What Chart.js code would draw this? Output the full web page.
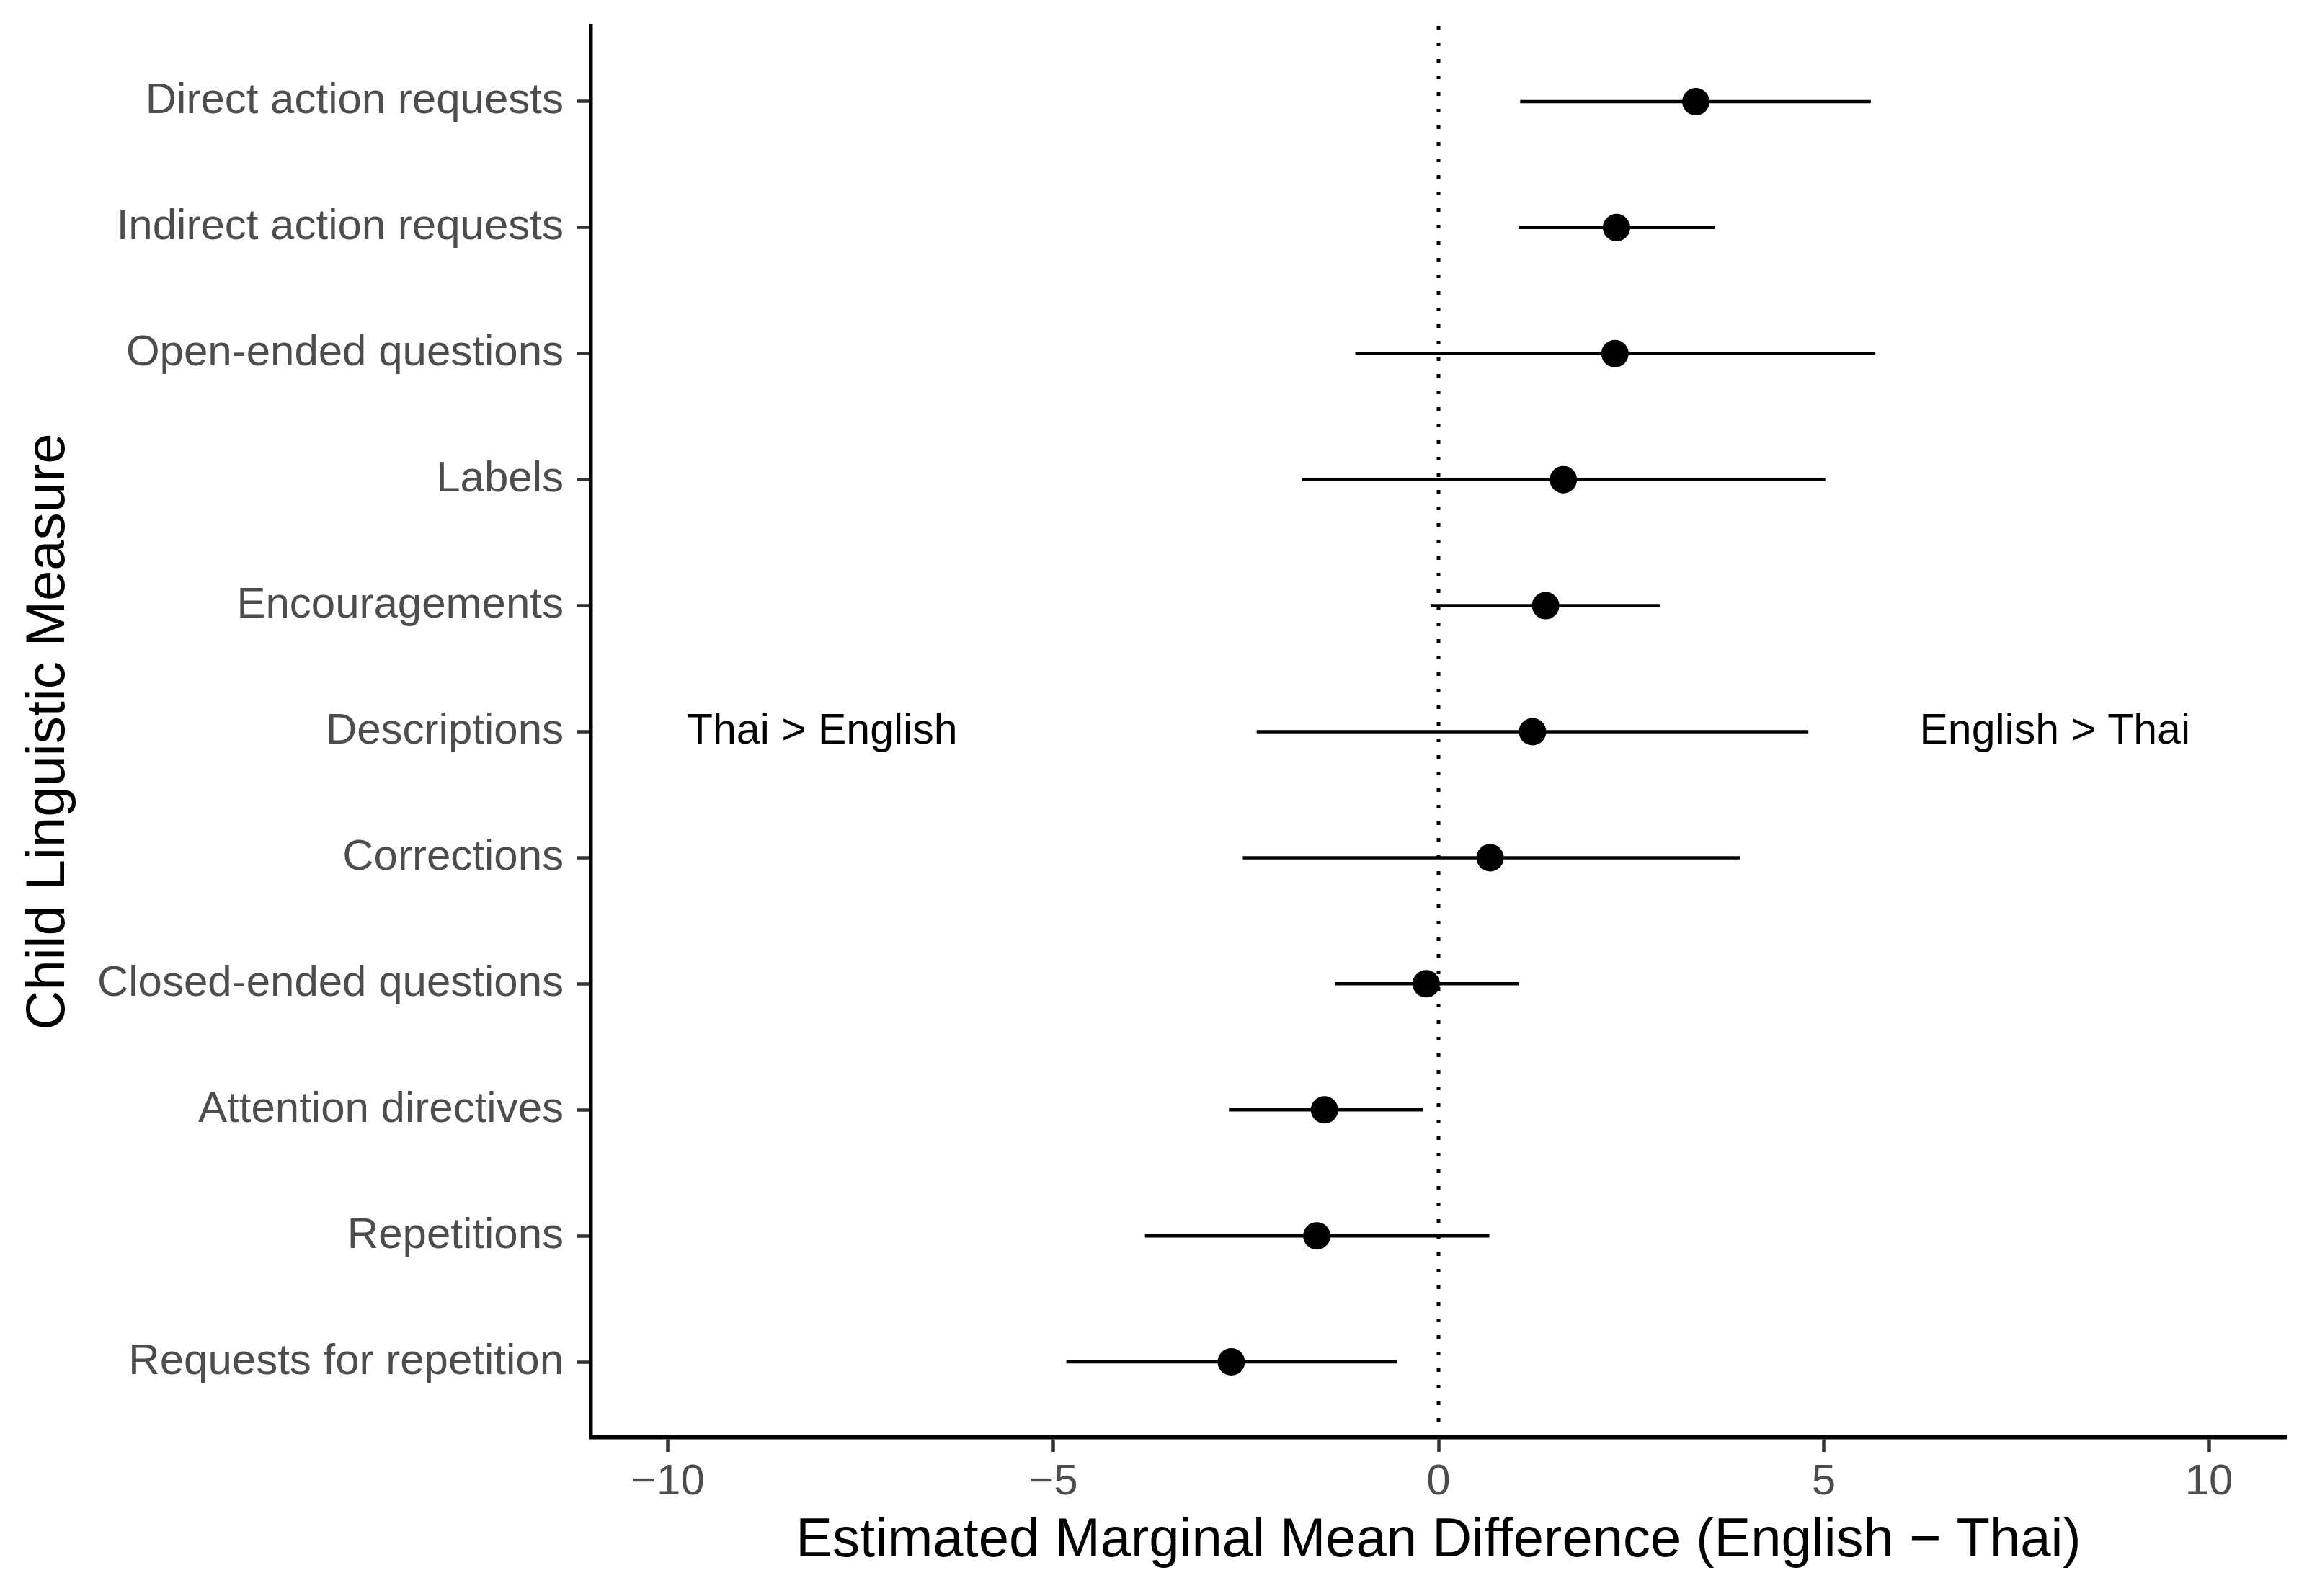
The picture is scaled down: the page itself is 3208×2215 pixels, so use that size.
<!DOCTYPE html>
<html>
<head>
<meta charset="utf-8">
<script src="https://cdn.jsdelivr.net/npm/chart.js@4"></script>
<style>
  body { margin: 0; background: #fff; overflow: hidden; }
  canvas { display: block; }
</style>
</head>
<body>
<canvas id="emmChart" width="3208" height="2215"></canvas>
<script>
// measures, top to bottom
const measures = [
    'Direct action requests',
    'Indirect action requests',
    'Open-ended questions',
    'Labels',
    'Encouragements',
    'Descriptions',
    'Corrections',
    'Closed-ended questions',
    'Attention directives',
    'Repetitions',
    'Requests for repetition'
];
const estimate = [3.34, 2.31, 2.29, 1.62, 1.39, 1.22, 0.67, -0.16, -1.48, -1.58, -2.69];
const lower    = [1.06, 1.04, -1.08, -1.77, -0.10, -2.36, -2.54, -1.34, -2.72, -3.81, -4.83];
const upper    = [5.61, 3.59, 5.67, 5.02, 2.88, 4.80, 3.91, 1.04, -0.20, 0.66, -0.54];
const xTicks = [-10, -5, 0, 5, 10];
const sideLabels = ['Thai > English', 'English > Thai'];
const sideLabelX = [-8, 8];
const sideLabelRow = 'Descriptions';

const FONT = "'Liberation Sans', Arial, sans-serif";

// one line per row for the confidence interval
const ciSets = measures.map((m, i) => ({
    type: 'line',
    data: [{ x: lower[i], y: i }, { x: upper[i], y: i }],
    borderColor: '#000',
    borderWidth: 4.5,
    pointRadius: 0,
    fill: false
}));

const pointSet = {
    type: 'scatter',
    data: measures.map((m, i) => ({ x: estimate[i], y: i })),
    backgroundColor: '#000',
    borderWidth: 0,
    pointRadius: 19
};

// dotted reference line at zero, drawn under the data
const zeroLine = {
    id: 'zeroLine',
    beforeDatasetsDraw(chart) {
        const { ctx, chartArea, scales } = chart;
        const px = scales.x.getPixelForValue(0);
        ctx.save();
        ctx.strokeStyle = '#000';
        ctx.lineWidth = 5;
        ctx.setLineDash([5, 18]);
        ctx.beginPath();
        ctx.moveTo(px, chartArea.top);
        ctx.lineTo(px, chartArea.bottom);
        ctx.stroke();
        ctx.restore();
    }
};

const sideText = {
    id: 'sideText',
    afterDatasetsDraw(chart) {
        const { ctx, scales } = chart;
        const py = scales.y.getPixelForValue(measures.indexOf(sideLabelRow));
        ctx.save();
        ctx.fillStyle = '#000';
        ctx.font = '59px ' + FONT;
        ctx.textAlign = 'center';
        ctx.textBaseline = 'middle';
        sideLabels.forEach((t, k) => {
            ctx.fillText(t, scales.x.getPixelForValue(sideLabelX[k]), py);
        });
        ctx.restore();
    }
};

const ctx = document.getElementById('emmChart').getContext('2d');
new Chart(ctx, {
    type: 'scatter',
    data: { datasets: [...ciSets, pointSet] },
    plugins: [zeroLine, sideText],
    options: {
        responsive: false,
        devicePixelRatio: 1,
        animation: false,
        layout: { padding: { top: 36, right: 36, left: 0, bottom: 0 } },
        plugins: {
            legend: { display: false },
            tooltip: { enabled: false }
        },
        scales: {
            x: {
                type: 'linear',
                min: -11,
                max: 11,
                afterBuildTicks: (scale) => {
                    scale.ticks = xTicks.map(v => ({ value: v }));
                },
                afterFit: (scale) => {
                    scale.height = 220;
                    scale.paddingLeft = 0;
                    scale.paddingRight = 0;
                },
                ticks: {
                    color: '#4D4D4D',
                    font: { family: FONT, size: 60 },
                    padding: 6,
                    callback: v => (v < 0 ? '\u2212' + Math.abs(v) : String(v))
                },
                grid: {
                    drawOnChartArea: false,
                    tickLength: 20,
                    tickColor: '#333333',
                    tickWidth: 4.5
                },
                border: { display: true, color: '#000', width: 5.5 },
                title: {
                    display: true,
                    text: 'Estimated Marginal Mean Difference (English \u2212 Thai)',
                    color: '#000',
                    font: { family: FONT, size: 76 },
                    padding: { top: 0, bottom: 30 }
                }
            },
            y: {
                type: 'linear',
                reverse: true,
                min: -0.6,
                max: measures.length - 0.4,
                afterBuildTicks: (scale) => {
                    scale.ticks = measures.map((m, i) => ({ value: i }));
                },
                afterFit: (scale) => {
                    scale.width = 820;
                    scale.paddingTop = 0;
                    scale.paddingBottom = 0;
                },
                ticks: {
                    color: '#4D4D4D',
                    font: { family: FONT, size: 60 },
                    padding: 18,
                    callback: v => measures[v]
                },
                grid: {
                    drawOnChartArea: false,
                    tickLength: 20,
                    tickColor: '#333333',
                    tickWidth: 4.5
                },
                border: { display: true, color: '#000', width: 5.5 },
                title: {
                    display: true,
                    text: 'Child Linguistic Measure',
                    color: '#000',
                    font: { family: FONT, size: 76 },
                    padding: { top: 22, bottom: 0 }
                }
            }
        }
    }
});
</script>
</body>
</html>
